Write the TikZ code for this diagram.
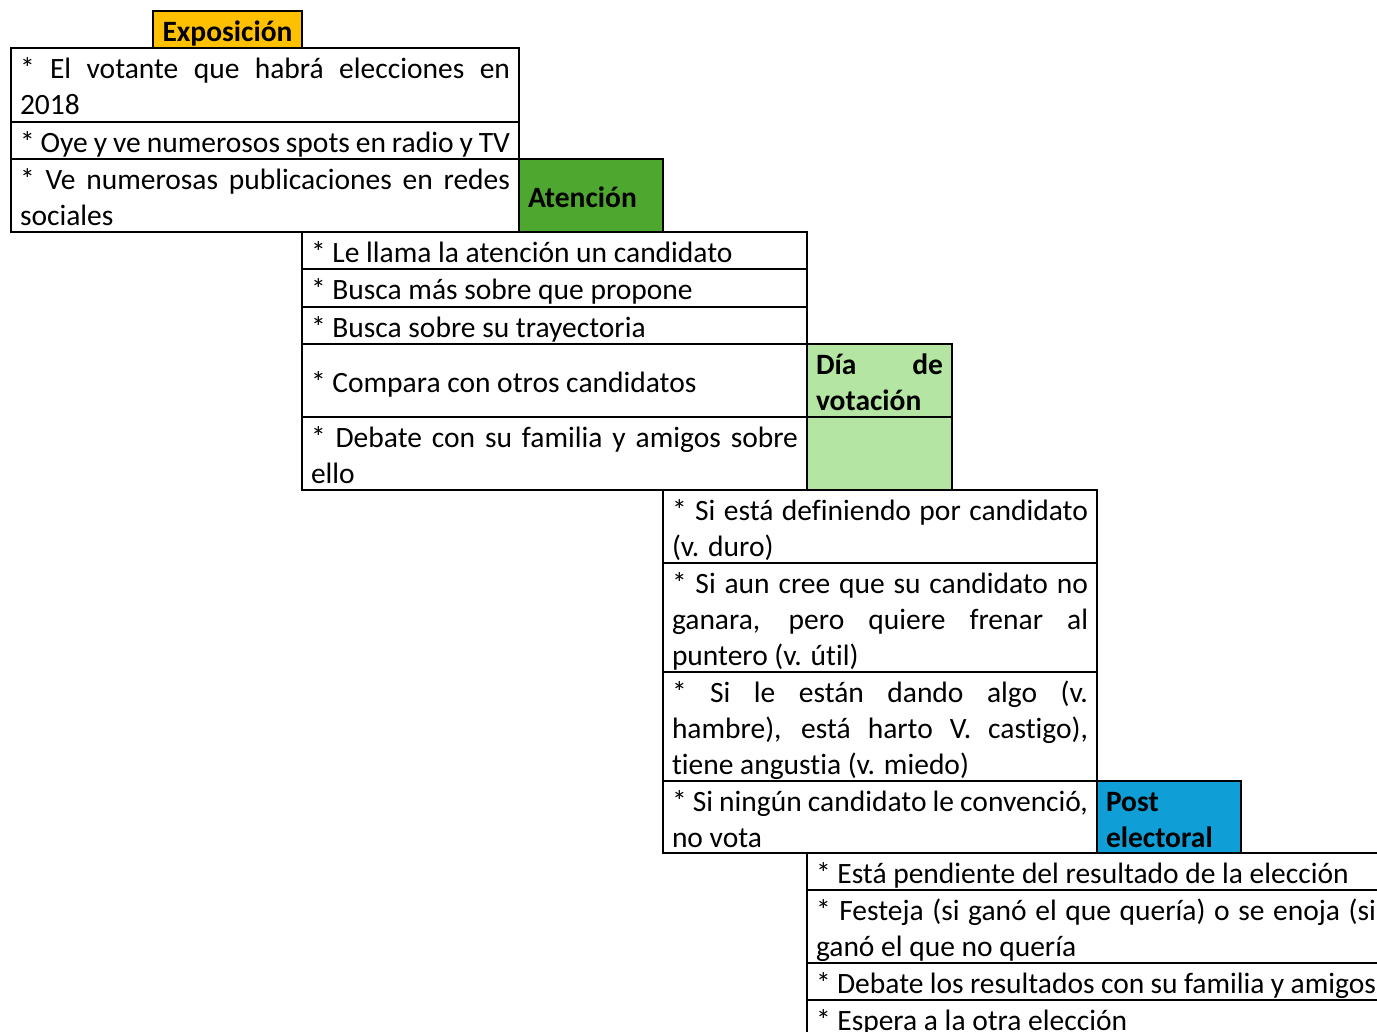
\documentclass[tikz,border=0pt]{standalone}
\usepackage{fontspec}
\setmainfont{Carlito}[Ligatures=CommonOff]
\definecolor{expo}{HTML}{FFC000}
\definecolor{aten}{HTML}{4EA72E}
\definecolor{dia}{HTML}{B4E5A2}
\definecolor{post}{HTML}{0F9ED5}
\newcommand\tstrut{\rule[-6pt]{0pt}{36pt}}
\newcommand\lineJ[1]{\hbox to\hsize{\tstrut#1}}
\newcommand\lineL[1]{\hbox to\hsize{\tstrut#1\hfil}}
\newcommand\cellbox[2]{\vbox{\offinterlineskip\hsize=#1\relax #2}}
\tikzset{
  row/.style={draw=black, line width=2pt, anchor=north west, inner xsep=9pt, inner ysep=0pt, outer sep=0pt, minimum height=#1, font=\fontsize{29.5}{36}\selectfont},
  tag/.style={row=#1, font=\fontsize{29.5}{36}\selectfont\bfseries},
}
\begin{document}
\begin{tikzpicture}[x=1pt,y=-1pt]
\useasboundingbox (0,0) rectangle (1377,1032);
\clip (0,0) rectangle (1377,1032);
% Exposicion
\node[tag=37pt, fill=expo, minimum width=149pt, align=center] (lexpo) at (153,11) {\tstrut Exposición};
\node[row=74pt] (e1) at (11,48) {\cellbox{490pt}{\lineJ{* El votante que habrá elecciones en}\lineL{2018}}};
\node[row=37pt] (e2) at (11,122) {\cellbox{490pt}{\lineL{* Oye y ve numerosos spots en radio y TV}}};
\node[row=73pt] (e3) at (11,159) {\cellbox{490pt}{\lineJ{* Ve numerosas publicaciones en redes}\lineL{sociales}}};
% Atencion
\node[tag=73pt, fill=aten] (laten) at (519,159) {\cellbox{126pt}{\lineL{Atención}}};
\node[row=37pt] (a1) at (302,232) {\cellbox{487pt}{\lineL{* Le llama la atención un candidato}}};
\node[row=38pt] (a2) at (302,269) {\cellbox{487pt}{\lineL{* Busca más sobre que propone}}};
\node[row=37pt] (a3) at (302,307) {\cellbox{487pt}{\lineL{* Busca sobre su trayectoria}}};
\node[row=73pt] (a4) at (302,344) {\cellbox{487pt}{\lineL{* Compara con otros candidatos}}};
\node[row=73pt] (a5) at (302,417) {\cellbox{487pt}{\lineJ{* Debate con su familia y amigos sobre}\lineL{ello}}};
% Dia de votacion
\node[tag=73pt, fill=dia] (ldia) at (807,344) {\cellbox{127pt}{\lineJ{Día\hfil de}\lineL{votación}}};
\node[tag=73pt, fill=dia, minimum width=145pt] (ldia2) at (807,417) {};
\node[row=73pt] (v1) at (663,490) {\cellbox{416pt}{\lineJ{* Si está definiendo por candidato}\lineL{(v. duro)}}};
\node[row=109pt] (v2) at (663,563) {\cellbox{416pt}{\lineJ{* Si aun cree que su candidato no}\lineJ{ganara, pero quiere frenar al}\lineL{puntero (v. útil)}}};
\node[row=109pt] (v3) at (663,672) {\cellbox{416pt}{\lineJ{* Si le están dando algo (v.}\lineJ{hambre), está harto V. castigo),}\lineL{tiene angustia (v. miedo)}}};
\node[row=72pt] (v4) at (663,781) {\cellbox{416pt}{\lineJ{* Si ningún candidato le convenció,}\lineL{no vota}}};
% Post electoral
\node[tag=72pt, fill=post] (lpost) at (1097,781) {\cellbox{126pt}{\lineL{Post}\lineL{electoral}}};
\node[row=37pt] (p1) at (807,853) {\cellbox{560pt}{\lineL{* Está pendiente del resultado de la elección}}};
\node[row=73pt] (p2) at (807,890) {\cellbox{560pt}{\lineJ{* Festeja (si ganó el que quería) o se enoja (si}\lineL{ganó el que no quería}}};
\node[row=37pt] (p3) at (807,963) {\cellbox{560pt}{\lineL{* Debate los resultados con su familia y amigos}}};
\node[row=37pt] (p4) at (807,1000) {\cellbox{560pt}{\lineL{* Espera a la otra elección}}};
\end{tikzpicture}
\end{document}
